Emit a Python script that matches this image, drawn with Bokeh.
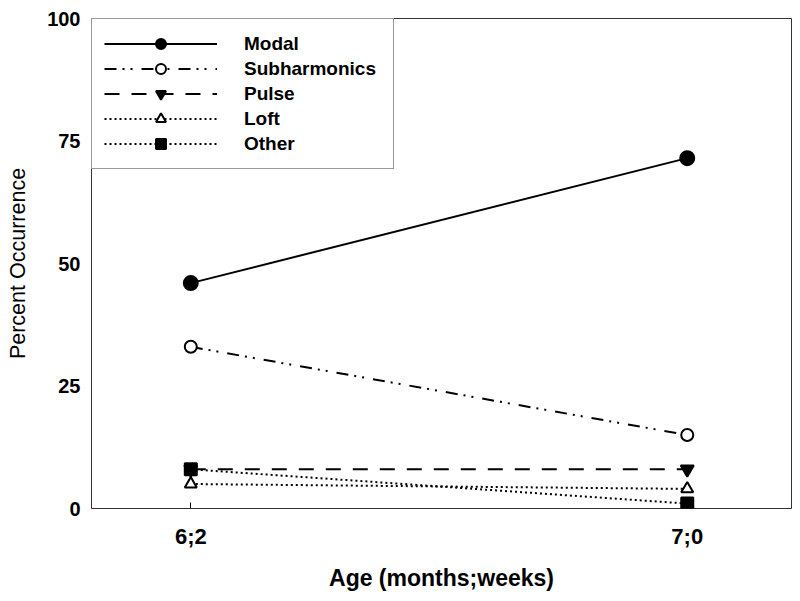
from bokeh.plotting import figure
from bokeh.models import Range1d, FixedTicker, Legend, LegendItem
from bokeh.embed import file_html
from bokeh.resources import INLINE

ages = ["6;2", "7;0"]
modal = [46, 71.5]
subharmonics = [33, 15]
pulse = [8, 8]
loft = [5, 4]
other = [8, 1]
y_ticks = [0, 25, 50, 75, 100]

x = list(range(len(ages)))
FONT = "Liberation Sans"

p = figure(width=792, height=593, output_backend="svg", toolbar_location=None,
           x_range=Range1d(-0.2, 1.21), y_range=Range1d(0, 100),
           min_border_left=91, min_border_right=1, min_border_top=18, min_border_bottom=85)
p.grid.visible = False
p.outline_line_color = "#333333"
p.outline_line_width = 1

series = [
    ("Modal", modal, "solid", "circle", "black", 14),
    ("Subharmonics", subharmonics, "12 6 2 6 2 9", "circle", "white", 12),
    ("Pulse", pulse, "15 12", "inverted_triangle", "black", 13),
    ("Loft", loft, "2 3", "triangle", "white", 12),
    ("Other", other, "2 3", "square", "black", 12),
]

line_rs = []
for name, vals, dash, marker, fill, size in series:
    lr = p.line(x, vals, line_color="black", line_width=2, line_dash=dash)
    line_rs.append(lr)

items = []
for (name, vals, dash, marker, fill, size), lr in zip(series, line_rs):
    sr = p.scatter(x, vals, marker=marker, size=size, fill_color=fill,
                   line_color="black", line_width=2)
    items.append(LegendItem(label=name, renderers=[lr, sr]))

legend = Legend(items=items, location="top_left", glyph_width=113, glyph_height=25,
                label_standoff=27, padding=12, spacing=0, margin=0,
                label_text_font=FONT, label_text_font_style="bold",
                label_text_font_size="19px", label_text_color="black",
                border_line_color="#333333", border_line_width=1,
                label_width=137, background_fill_alpha=1)
p.add_layout(legend)

p.yaxis.ticker = FixedTicker(ticks=y_ticks)
p.yaxis.major_tick_line_color = None
p.yaxis.major_tick_in = 0
p.yaxis.major_tick_out = 0
p.yaxis.minor_tick_line_color = None
p.yaxis.axis_line_color = None
p.yaxis.major_label_standoff = 11
p.yaxis.major_label_text_font = FONT
p.yaxis.major_label_text_font_style = "bold"
p.yaxis.major_label_text_font_size = "20px"
p.yaxis.major_label_text_color = "black"
p.yaxis.axis_label = "Percent Occurrence"
p.yaxis.axis_label_text_font = FONT
p.yaxis.axis_label_text_font_style = "normal"
p.yaxis.axis_label_text_font_size = "21.5px"
p.yaxis.axis_label_text_color = "black"
p.yaxis.axis_label_standoff = 14

p.xaxis.ticker = FixedTicker(ticks=x)
p.xaxis.major_label_overrides = {i: a for i, a in enumerate(ages)}
p.xaxis.major_tick_in = 6
p.xaxis.major_tick_out = 0
p.xaxis.major_tick_line_color = "black"
p.xaxis.minor_tick_line_color = None
p.xaxis.axis_line_color = None
p.xaxis.major_label_standoff = 15
p.xaxis.major_label_text_font = FONT
p.xaxis.major_label_text_font_style = "bold"
p.xaxis.major_label_text_font_size = "22px"
p.xaxis.major_label_text_color = "black"
p.xaxis.axis_label = "Age (months;weeks)"
p.xaxis.axis_label_text_font = FONT
p.xaxis.axis_label_text_font_style = "bold"
p.xaxis.axis_label_text_font_size = "23px"
p.xaxis.axis_label_text_color = "black"
p.xaxis.axis_label_standoff = 13

open("out.html", "w").write(file_html(p, INLINE))
